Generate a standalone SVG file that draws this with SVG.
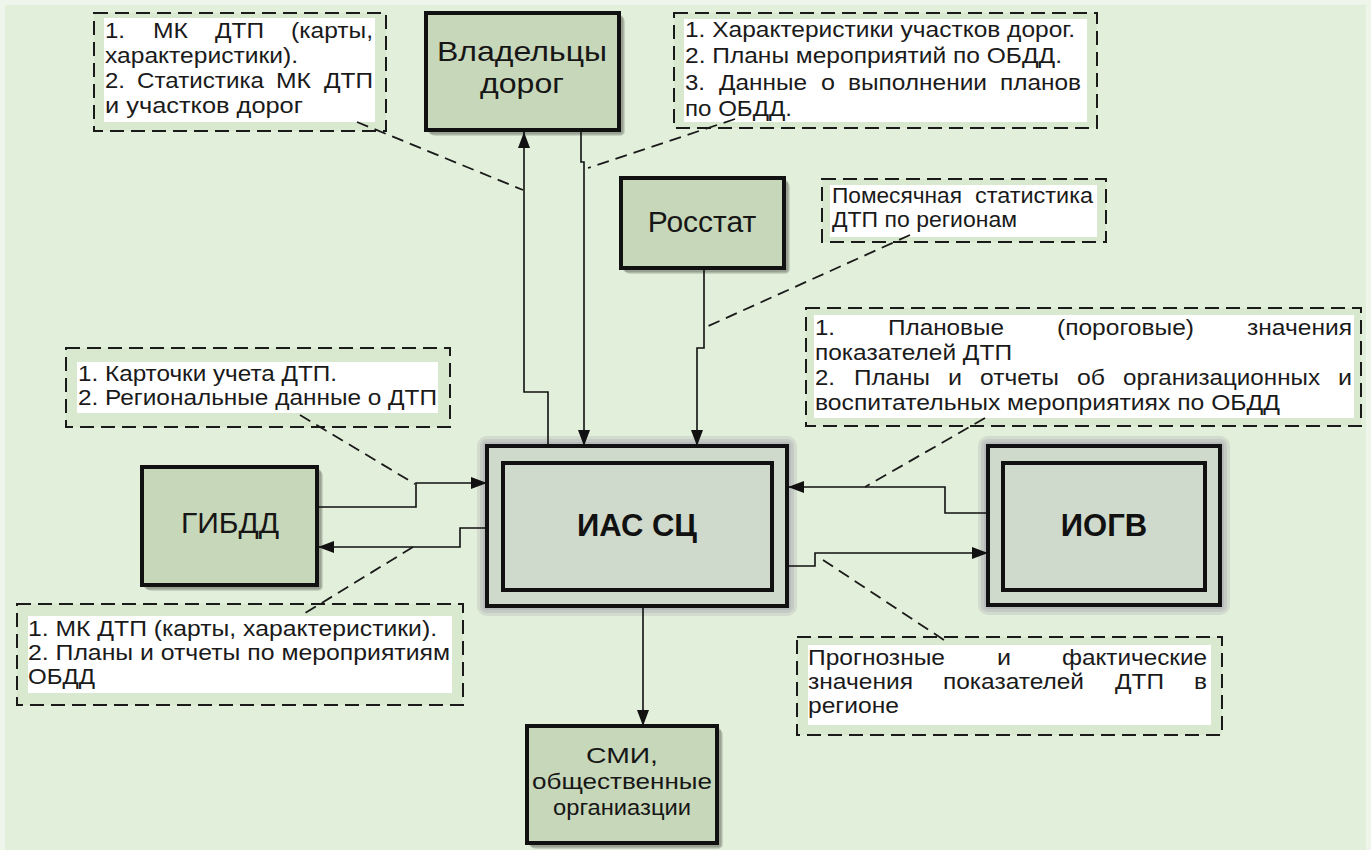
<svg xmlns="http://www.w3.org/2000/svg" width="1371" height="850" viewBox="0 0 1371 850">
<style>
.node{fill:#c7d7b9;stroke:#111;stroke-width:4}
.big{fill:#cfdacc;stroke:#111;stroke-width:4}
.shd{fill:#000;fill-opacity:0.12}
.glw{fill:#6f6688;fill-opacity:0.14}
.lbl{font-family:"Liberation Sans",Arial,sans-serif;font-size:30px;fill:#161616;text-anchor:middle}
.lbl2{font-family:"Liberation Sans",Arial,sans-serif;font-size:28px;fill:#161616;text-anchor:middle}
.lblb{font-family:"Liberation Sans",Arial,sans-serif;font-size:31px;font-weight:bold;fill:#111;text-anchor:middle}
.lbls{font-family:"Liberation Sans",Arial,sans-serif;font-size:22px;fill:#161616;text-anchor:middle}
.nbox{fill:#d9e9cf;stroke:#1a1a1a;stroke-width:2;stroke-dasharray:14 7}
.nbg{fill:#ffffff}
.nt{font-family:"Liberation Sans",Arial,sans-serif;font-size:22px;fill:#1a1a1a}
.con{fill:none;stroke:#111;stroke-width:1.6}
.call{fill:none;stroke:#1a1a1a;stroke-width:1.8;stroke-dasharray:12 7}
</style>
<defs>
<marker id="arr" viewBox="0 0 16 12" refX="16" refY="6" markerWidth="16" markerHeight="12" markerUnits="userSpaceOnUse" orient="auto">
<path d="M0,0 L16,6 L0,12 z" fill="#111"/>
</marker>
</defs>
<rect x="0" y="0" width="1371" height="850" fill="#eef5ea"/>
<rect x="5" y="5" width="1361" height="845" fill="#e2efda"/>

<g id="note-owners-left">
<rect class="nbox" x="94" y="13" width="292" height="118"/>
<rect class="nbg" x="104" y="18" width="271" height="104"/>
<text class="nt"><tspan x="105" y="38" textLength="20" lengthAdjust="spacingAndGlyphs">1.</tspan><tspan x="153" y="38" textLength="35" lengthAdjust="spacingAndGlyphs">МК</tspan><tspan x="215" y="38" textLength="49" lengthAdjust="spacingAndGlyphs">ДТП</tspan><tspan x="291" y="38" textLength="82" lengthAdjust="spacingAndGlyphs">(карты,</tspan></text>
<text class="nt" x="105" y="63" textLength="193" lengthAdjust="spacingAndGlyphs">характеристики).</text>
<text class="nt"><tspan x="105" y="88" textLength="20" lengthAdjust="spacingAndGlyphs">2.</tspan><tspan x="137" y="88" textLength="127" lengthAdjust="spacingAndGlyphs">Статистика</tspan><tspan x="276" y="88" textLength="35" lengthAdjust="spacingAndGlyphs">МК</tspan><tspan x="324" y="88" textLength="49" lengthAdjust="spacingAndGlyphs">ДТП</tspan></text>
<text class="nt" x="105" y="113" textLength="198" lengthAdjust="spacingAndGlyphs">и участков дорог</text>
</g>

<g id="note-owners-right">
<rect class="nbox" x="674" y="13" width="423" height="115"/>
<rect class="nbg" x="684" y="19" width="403" height="103"/>
<text class="nt" x="685" y="37" textLength="390" lengthAdjust="spacingAndGlyphs">1. Характеристики участков дорог.</text>
<text class="nt" x="685" y="63" textLength="377" lengthAdjust="spacingAndGlyphs">2. Планы мероприятий по ОБДД.</text>
<text class="nt"><tspan x="685" y="90" textLength="20" lengthAdjust="spacingAndGlyphs">3.</tspan><tspan x="719" y="90" textLength="88" lengthAdjust="spacingAndGlyphs">Данные</tspan><tspan x="821" y="90" textLength="14" lengthAdjust="spacingAndGlyphs">о</tspan><tspan x="848" y="90" textLength="139" lengthAdjust="spacingAndGlyphs">выполнении</tspan><tspan x="1000" y="90" textLength="81" lengthAdjust="spacingAndGlyphs">планов</tspan></text>
<text class="nt" x="685" y="116" textLength="107" lengthAdjust="spacingAndGlyphs">по ОБДД.</text>
</g>

<g id="note-rosstat">
<rect class="nbox" x="822" y="179" width="284" height="63"/>
<rect class="nbg" x="830" y="185" width="267" height="52"/>
<text class="nt"><tspan x="832" y="203" textLength="130" lengthAdjust="spacingAndGlyphs">Помесячная</tspan><tspan x="975" y="203" textLength="118" lengthAdjust="spacingAndGlyphs">статистика</tspan></text>
<text class="nt" x="832" y="227" textLength="185" lengthAdjust="spacingAndGlyphs">ДТП по регионам</text>
</g>

<g id="note-iogv-in">
<rect class="nbox" x="806" y="308" width="555" height="118"/>
<rect class="nbg" x="814" y="315" width="540" height="103"/>
<text class="nt"><tspan x="815" y="335" textLength="20" lengthAdjust="spacingAndGlyphs">1.</tspan><tspan x="888" y="335" textLength="116" lengthAdjust="spacingAndGlyphs">Плановые</tspan><tspan x="1057" y="335" textLength="137" lengthAdjust="spacingAndGlyphs">(пороговые)</tspan><tspan x="1247" y="335" textLength="105" lengthAdjust="spacingAndGlyphs">значения</tspan></text>
<text class="nt" x="815" y="360" textLength="197" lengthAdjust="spacingAndGlyphs">показателей ДТП</text>
<text class="nt"><tspan x="815" y="385" textLength="20" lengthAdjust="spacingAndGlyphs">2.</tspan><tspan x="854" y="385" textLength="76" lengthAdjust="spacingAndGlyphs">Планы</tspan><tspan x="948" y="385" textLength="14" lengthAdjust="spacingAndGlyphs">и</tspan><tspan x="980" y="385" textLength="79" lengthAdjust="spacingAndGlyphs">отчеты</tspan><tspan x="1077" y="385" textLength="28" lengthAdjust="spacingAndGlyphs">об</tspan><tspan x="1123" y="385" textLength="197" lengthAdjust="spacingAndGlyphs">организационных</tspan><tspan x="1338" y="385" textLength="14" lengthAdjust="spacingAndGlyphs">и</tspan></text>
<text class="nt" x="815" y="410" textLength="465" lengthAdjust="spacingAndGlyphs">воспитательных мероприятиях по ОБДД</text>
</g>

<g id="note-gibdd-in">
<rect class="nbox" x="66" y="348" width="384" height="79"/>
<rect class="nbg" x="77" y="362" width="361" height="51"/>
<text class="nt" x="78" y="381" textLength="259" lengthAdjust="spacingAndGlyphs">1. Карточки учета ДТП.</text>
<text class="nt" x="78" y="405" textLength="359" lengthAdjust="spacingAndGlyphs">2. Региональные данные о ДТП</text>
</g>

<g id="note-gibdd-out">
<rect class="nbox" x="17" y="604" width="446" height="101"/>
<rect class="nbg" x="28" y="616" width="424" height="77"/>
<text class="nt" x="28" y="636" textLength="409" lengthAdjust="spacingAndGlyphs">1. МК ДТП (карты, характеристики).</text>
<text class="nt" x="28" y="660" textLength="422" lengthAdjust="spacingAndGlyphs">2. Планы и отчеты по мероприятиям</text>
<text class="nt" x="28" y="684" textLength="67" lengthAdjust="spacingAndGlyphs">ОБДД</text>
</g>

<g id="note-iogv-out">
<rect class="nbox" x="797" y="637" width="425" height="98"/>
<rect class="nbg" x="808" y="645" width="403" height="80"/>
<text class="nt"><tspan x="808" y="665" textLength="137" lengthAdjust="spacingAndGlyphs">Прогнозные</tspan><tspan x="997" y="665" textLength="14" lengthAdjust="spacingAndGlyphs">и</tspan><tspan x="1062" y="665" textLength="145" lengthAdjust="spacingAndGlyphs">фактические</tspan></text>
<text class="nt"><tspan x="808" y="689" textLength="105" lengthAdjust="spacingAndGlyphs">значения</tspan><tspan x="943" y="689" textLength="141" lengthAdjust="spacingAndGlyphs">показателей</tspan><tspan x="1115" y="689" textLength="49" lengthAdjust="spacingAndGlyphs">ДТП</tspan><tspan x="1194" y="689" textLength="13" lengthAdjust="spacingAndGlyphs">в</tspan></text>
<text class="nt" x="808" y="713" textLength="91" lengthAdjust="spacingAndGlyphs">регионе</text>
</g>

<g id="node-owners">
<rect class="shd" x="428" y="15" width="195" height="119" rx="3"/>
<rect class="shd" x="429" y="16" width="195" height="119" rx="4"/>
<rect class="shd" x="430" y="17" width="195" height="119" rx="5"/>
<rect class="node" x="426" y="13" width="193" height="117"/>
<text class="lbl2" x="522" y="61" textLength="170" lengthAdjust="spacingAndGlyphs">Владельцы</text>
<text class="lbl2" x="522" y="93" textLength="84" lengthAdjust="spacingAndGlyphs">дорог</text>
</g>

<g id="node-rosstat">
<rect class="shd" x="623" y="180" width="165" height="92" rx="3"/>
<rect class="shd" x="624" y="181" width="165" height="92" rx="4"/>
<rect class="shd" x="625" y="182" width="165" height="92" rx="5"/>
<rect class="node" x="621" y="178" width="163" height="90"/>
<text class="lbl" x="702" y="232">Росстат</text>
</g>

<g id="node-gibdd">
<rect class="shd" x="144" y="469" width="177" height="120" rx="3"/>
<rect class="shd" x="145" y="470" width="177" height="120" rx="4"/>
<rect class="shd" x="146" y="471" width="177" height="120" rx="5"/>
<rect class="node" x="142" y="467" width="175" height="118"/>
<text class="lbl" x="230" y="533">ГИБДД</text>
</g>

<g id="node-ias">
<rect class="glw" x="477" y="436" width="320" height="180" rx="10"/>
<rect class="glw" x="480" y="439" width="314" height="174" rx="7"/>
<rect class="glw" x="483" y="442" width="308" height="168" rx="4"/>
<rect class="big" x="487" y="446" width="300" height="160"/>
<rect class="big" x="503" y="463" width="269" height="127"/>
<text class="lblb" x="637" y="536">ИАС СЦ</text>
</g>

<g id="node-iogv">
<rect class="glw" x="978" y="436" width="252" height="179" rx="10"/>
<rect class="glw" x="981" y="439" width="246" height="173" rx="7"/>
<rect class="glw" x="984" y="442" width="240" height="167" rx="4"/>
<rect class="big" x="988" y="446" width="232" height="159"/>
<rect class="big" x="1003" y="463" width="202" height="127"/>
<text class="lblb" x="1104" y="536">ИОГВ</text>
</g>

<g id="node-smi">
<rect class="shd" x="529" y="728" width="192" height="119" rx="3"/>
<rect class="shd" x="530" y="729" width="192" height="119" rx="4"/>
<rect class="shd" x="531" y="730" width="192" height="119" rx="5"/>
<rect class="node" x="527" y="726" width="190" height="117"/>
<text class="lbls" x="622" y="763" textLength="72" lengthAdjust="spacingAndGlyphs">СМИ,</text>
<text class="lbls" x="622" y="789" textLength="180" lengthAdjust="spacingAndGlyphs">общественные</text>
<text class="lbls" x="622" y="815" textLength="138" lengthAdjust="spacingAndGlyphs">органиазции</text>
</g>

<g id="connectors">
<path class="con" d="M548,446 V392 H524 V132" marker-end="url(#arr)"/>
<path class="con" d="M581,130 V162 H584 V446" marker-end="url(#arr)"/>
<path class="con" d="M704,268 V348 H697 V446" marker-end="url(#arr)"/>
<path class="con" d="M317,507 H416 V483 H487" marker-end="url(#arr)"/>
<path class="con" d="M487,528 H460 V547 H318" marker-end="url(#arr)"/>
<path class="con" d="M988,513 H945 V487 H788" marker-end="url(#arr)"/>
<path class="con" d="M787,566 H815 V553 H988" marker-end="url(#arr)"/>
<path class="con" d="M643,606 V726" marker-end="url(#arr)"/>
<path class="call" d="M357,122 L523,190"/>
<path class="call" d="M735,119 L588,168"/>
<path class="call" d="M910,235 L704,328"/>
<path class="call" d="M985,418 L865,487"/>
<path class="call" d="M300,415 L415,484"/>
<path class="call" d="M413,547 L302,615"/>
<path class="call" d="M823,560 L947,642"/>
</g>
</svg>
